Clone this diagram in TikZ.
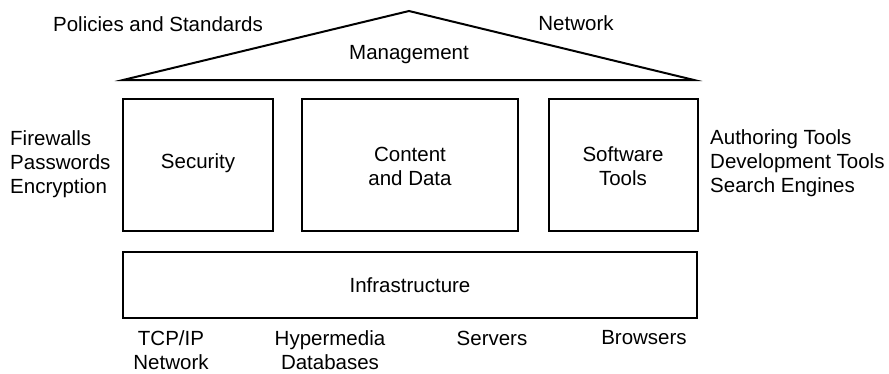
\documentclass[tikz,border=0pt]{standalone}
\usepackage{fontspec}
\setmainfont{Liberation Sans}
\begin{document}
\begin{tikzpicture}[x=1pt,y=-1pt,
  box/.style={draw, line width=2pt, minimum width=#1},
  lbl/.style={inner sep=0pt, font=\fontsize{20.5}{24}\selectfont},
  every node/.style={lbl}]
\useasboundingbox (0,0) rectangle (889,373);
% roof
\coordinate (rl) at (123,80);
\coordinate (apex) at (409,11);
\coordinate (rr) at (694,80);
\draw[line width=2pt, line join=miter] (rl) -- (apex) -- (rr) -- cycle;
\node (mgmt) at (409,55) {Management};
\node (pol) at (158,24) {Policies and Standards};
\node (net) at (576,23) {Network};
% boxes
\draw[line width=2pt] (123,99) rectangle (273,231);
\node (sec) at (198,163) {Security};
\draw[line width=2pt] (302,99) rectangle (518,231);
\node[align=center] (cont) at (410,166) {Content\\and Data};
\draw[line width=2pt] (549,99) rectangle (698,231);
\node[align=center] (soft) at (623,166) {Software\\Tools};
\draw[line width=2pt] (123,252) rectangle (697,318);
\node (infra) at (410,285) {Infrastructure};
% side lists
\node[align=left, anchor=west] (left) at (10,164) {Firewalls\\Passwords\\Encryption};
\node[align=left, anchor=west] (right) at (710,163) {Authoring Tools\\Development Tools\\Search Engines};
% bottom labels
\node[align=center] (tcp) at (171,350) {TCP/IP\\Network};
\node[align=center] (hyp) at (330,350) {Hypermedia\\Databases};
\node (serv) at (492,338) {Servers};
\node (brow) at (644,338) {Browsers};
\end{tikzpicture}
\end{document}
